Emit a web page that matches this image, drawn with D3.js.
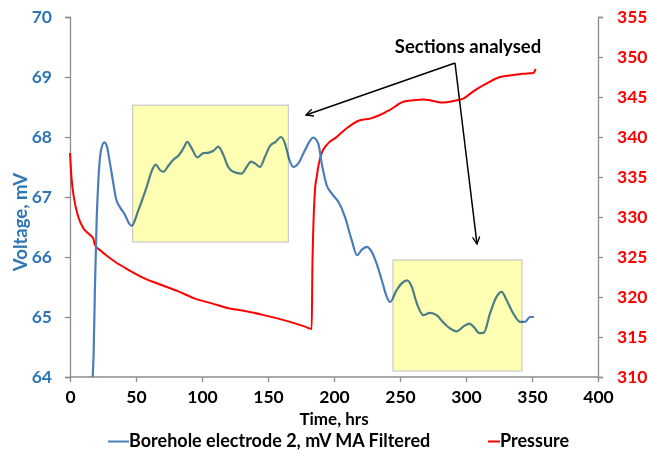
<!DOCTYPE html>
<html><head><meta charset="utf-8">
<script src="https://cdn.jsdelivr.net/npm/d3@7"></script>
<style>
html,body{margin:0;padding:0;background:#fff;}
svg text{font-family:Lato,"Open Sans",sans-serif;font-weight:bold;}
</style></head>
<body><svg id="c" width="648" height="452"></svg>
<script>
// ---- data ----
const xTicks = [0,50,100,150,200,250,300,350,400];
const voltTicks = [64,65,66,67,68,69,70];
const pressTicks = [310,315,320,325,330,335,340,345,350,355];
const voltTime = [17.2,17.9,18.9,20.2,21.5,23.5,26.0,28.0,30.3,32.8,34.8,37.9,41.7,44.7,46.7,51.8,58.1,62.4,64.9,68.2,70.7,74.5,78.3,82.6,85.9,88.9,92.2,96.5,101.0,105.3,108.6,112.4,116.2,119.9,123.7,130.1,133.8,137.1,140.2,143.9,147.7,151.5,155.8,159.8,162.9,165.9,169.2,173.0,178.0,184.3,188.1,190.7,194.4,198.2,203.3,208.3,213.4,217.5,221.0,224.7,228.5,232.3,236.1,239.9,242.4,247.5,251.3,255.5,258.8,262.7,267.7,272.7,277.8,282.8,287.9,292.9,298.0,302.5,306.1,310.1,313.6,318.2,323.2,327.0,330.8,335.8,340.9,344.7,348.5,351.5];
const voltage = [64.00,64.39,65.50,66.62,67.28,67.78,67.91,67.84,67.56,67.23,66.98,66.83,66.70,66.56,66.52,66.78,67.17,67.46,67.54,67.45,67.42,67.52,67.62,67.70,67.81,67.92,67.81,67.66,67.73,67.74,67.77,67.84,67.70,67.50,67.42,67.39,67.50,67.59,67.56,67.50,67.67,67.85,67.92,68.00,67.89,67.64,67.50,67.56,67.78,67.99,67.89,67.56,67.20,67.06,66.92,66.67,66.28,66.03,66.12,66.17,66.09,65.89,65.62,65.34,65.25,65.45,65.56,65.61,65.51,65.23,65.03,65.07,65.03,64.91,64.81,64.76,64.84,64.89,64.83,64.73,64.74,65.06,65.34,65.42,65.28,65.06,64.92,64.92,65.00,65.00];
const pressTime = [0,1.3,3.3,6.3,10.1,15.2,17.7,18.9,24.0,34.1,44.2,56.8,69.4,82.1,94.7,107.3,119.9,132.6,145.2,157.8,170.5,178.0,183.1,183.6,184.3,185.6,186.9,188.1,190.7,194.4,202.0,209.6,219.7,227.3,234.8,242.4,252.5,260.1,267.7,275.2,282.8,290.4,298.0,305.5,315.7,325.8,335.8,343.4,351.0,352.8];
const pressure = [338.0,334.6,332.1,330.0,328.6,327.75,327.3,326.5,325.7,324.4,323.4,322.3,321.5,320.7,319.8,319.2,318.6,318.25,317.8,317.3,316.7,316.3,316.0,323.4,328.4,333.4,335.0,336.3,338.0,339.0,340.0,341.1,342.1,342.3,342.75,343.4,344.4,344.6,344.7,344.5,344.3,344.5,344.8,345.7,346.7,347.5,347.75,347.9,348.0,348.5];
// highlighted sections [t0, t1, v0, v1]
const sections = [[47.5,165.4,66.25,68.53],[244.7,342.4,64.1,65.95]];
const seriesNames = ["Borehole electrode 2, mV MA Filtered","Pressure"];

// ---- layout ----
const svg = d3.select("#c");
const L=70, R=598, T=17, B=377;
const x = d3.scaleLinear().domain([0,400]).range([L,R]);
const yV = d3.scaleLinear().domain([64,70]).range([B,T]);
const yP = d3.scaleLinear().domain([310,355]).range([B,T]);
const blue="#4a7ebb", red="#ff0000", axisCol="#8c8c8c", blueTxt="#2e75b6";

// axes
const gx = svg.append("g").attr("transform",`translate(0,${B})`)
  .call(d3.axisBottom(x).tickValues(xTicks).tickFormat(d3.format("d")).tickSize(5).tickPadding(9));
const gl = svg.append("g").attr("transform",`translate(${L},0)`)
  .call(d3.axisLeft(yV).tickValues(voltTicks).tickFormat(d3.format("d")).tickSize(5).tickPadding(13));
const gr = svg.append("g").attr("transform",`translate(${R},0)`)
  .call(d3.axisRight(yP).tickValues(pressTicks).tickFormat(d3.format("d")).tickSize(5).tickPadding(14));
[gx,gl,gr].forEach(g=>{
  g.selectAll("path.domain").attr("stroke",axisCol).attr("stroke-width",1.3);
  g.selectAll(".tick line").attr("stroke",axisCol).attr("stroke-width",1.3);
  g.selectAll("text").style("font-size","17.5px");
});
gx.select("path.domain").attr("d",`M${L},0H${R}`);
gx.selectAll("text").attr("fill","#000");
gl.selectAll("text").attr("fill",blueTxt);
gr.selectAll("text").attr("fill",red);

// lines
const vData = voltTime.map((t,i)=>[t,voltage[i]]);
const pData = pressTime.map((t,i)=>[t,pressure[i]]);
svg.append("path").datum(pData).attr("fill","none").attr("stroke",red).attr("stroke-width",2)
  .attr("d",d3.line().x(d=>x(d[0])).y(d=>yP(d[1])).curve(d3.curveMonotoneX));
svg.append("path").datum(vData).attr("fill","none").attr("stroke",blue).attr("stroke-width",2.2)
  .attr("d",d3.line().x(d=>x(d[0])).y(d=>yV(d[1])).curve(d3.curveMonotoneX));

// section boxes
svg.selectAll("rect.sec").data(sections).join("rect").attr("class","sec")
  .attr("x",d=>x(d[0])).attr("width",d=>x(d[1])-x(d[0]))
  .attr("y",d=>yV(d[3])).attr("height",d=>yV(d[2])-yV(d[3]))
  .attr("fill","#ffffb4").attr("stroke","#c8c8c8").attr("stroke-width",1.2)
  .style("mix-blend-mode","multiply");

// annotation
const defs = svg.append("defs");
defs.append("marker").attr("id","ah").attr("viewBox","0 0 10 10").attr("refX",9).attr("refY",5)
  .attr("markerWidth",9).attr("markerHeight",9).attr("orient","auto").attr("markerUnits","userSpaceOnUse")
  .append("path").attr("d","M1,1L9,5L1,9").attr("fill","none").attr("stroke","#000").attr("stroke-width",1.5);
const ox=455, oy=63;
svg.append("line").attr("x1",ox).attr("y1",oy).attr("x2",306).attr("y2",115)
  .attr("stroke","#000").attr("stroke-width",1.5).attr("marker-end","url(#ah)");
svg.append("line").attr("x1",ox).attr("y1",oy).attr("x2",477).attr("y2",244)
  .attr("stroke","#000").attr("stroke-width",1.5).attr("marker-end","url(#ah)");
svg.append("text").attr("x",468).attr("y",53).attr("text-anchor","middle")
  .style("font-size","18.5px").attr("fill","#000").text("Sections analysed");

// axis titles
svg.append("text").attr("transform","translate(27,222) rotate(-90)").attr("text-anchor","middle")
  .style("font-size","18.5px").attr("fill",blueTxt).text("Voltage, mV");
svg.append("text").attr("x",334).attr("y",425).attr("text-anchor","middle")
  .style("font-size","17px").attr("fill","#000").text("Time, hrs");

// legend
const lg = svg.append("g");
lg.append("line").attr("x1",108).attr("x2",129).attr("y1",441.5).attr("y2",441.5).attr("stroke",blue).attr("stroke-width",2);
lg.append("text").attr("x",129).attr("y",447).style("font-size","18px").attr("fill","#000").text(seriesNames[0]);
lg.append("line").attr("x1",488).attr("x2",500).attr("y1",441.5).attr("y2",441.5).attr("stroke",red).attr("stroke-width",2);
lg.append("text").attr("x",500).attr("y",447).style("font-size","18px").attr("fill","#000").text(seriesNames[1]);
</script></body></html>
